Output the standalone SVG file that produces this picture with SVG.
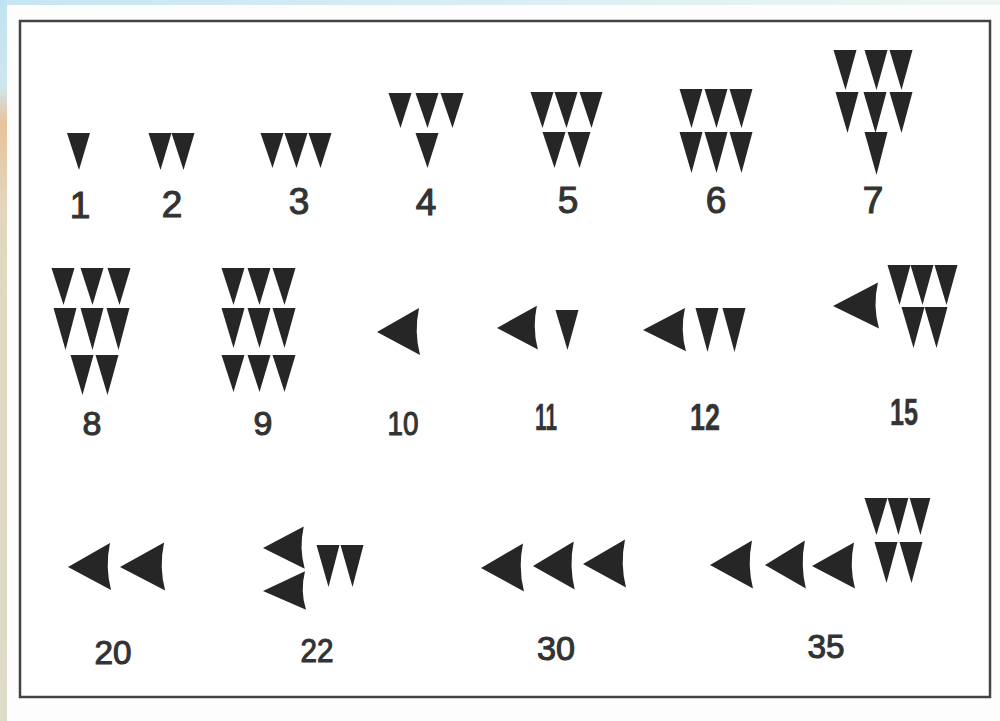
<svg xmlns="http://www.w3.org/2000/svg" xmlns:xlink="http://www.w3.org/1999/xlink" width="1000" height="721" viewBox="0 0 1000 721">
<defs>
<linearGradient id="side" x1="0" y1="0" x2="0" y2="1">
<stop offset="0" stop-color="#bfe4f1"/>
<stop offset="0.12" stop-color="#cfe6ee"/>
<stop offset="0.17" stop-color="#e8c39a"/>
<stop offset="0.3" stop-color="#e2d8c0"/>
<stop offset="1" stop-color="#dedbc8"/>
</linearGradient>
<linearGradient id="topg" x1="0" y1="0" x2="1" y2="0">
<stop offset="0" stop-color="#c6e6f2"/>
<stop offset="0.5" stop-color="#d9eef4"/>
<stop offset="1" stop-color="#eef6f2"/>
</linearGradient>
<path id="v" d="M-11.5,0 L11.5,0 L0.5,40 Z"/>
<path id="h" d="M0,0 L42,-24 Q37,0 43,23 Z"/>
<style>
.w{fill:#262626}
.n{font-family:"Liberation Sans",Arial,sans-serif;font-weight:normal;fill:#333;stroke:#333;stroke-width:1.1px;text-anchor:middle}
.r1{font-size:37px}
.r2{font-size:34px}
.b{font-weight:bold;stroke-width:0.4px;font-size:37px}
</style>
</defs>
<rect x="0" y="0" width="1000" height="721" fill="url(#topg)"/>
<rect x="0" y="0" width="7" height="721" fill="url(#side)"/>
<rect x="7" y="5" width="993" height="716" fill="#fdfdfd"/>
<rect x="20" y="21" width="970" height="676" fill="#ffffff" stroke="#444" stroke-width="2.5"/>

<g id="n1" class="w">
<use xlink:href="#v" transform="translate(78.5,133) scale(1,0.925)"/>
<text class="n r1" x="80" y="218">1</text>
</g>
<g id="n2" class="w">
<use xlink:href="#v" transform="translate(160,133) scale(1,0.925)"/>
<use xlink:href="#v" transform="translate(183,133) scale(1,0.925)"/>
<text class="n r1" x="172" y="217">2</text>
</g>
<g id="n3" class="w">
<use xlink:href="#v" transform="translate(272,133) scale(1,0.875)"/>
<use xlink:href="#v" transform="translate(296,133) scale(1,0.875)"/>
<use xlink:href="#v" transform="translate(320,133) scale(1,0.875)"/>
<text class="n r1" x="299" y="214">3</text>
</g>
<g id="n4" class="w">
<use xlink:href="#v" transform="translate(400,93) scale(1,0.875)"/>
<use xlink:href="#v" transform="translate(427,93) scale(1,0.875)"/>
<use xlink:href="#v" transform="translate(452,93) scale(1,0.875)"/>
<use xlink:href="#v" transform="translate(427,133) scale(1,0.875)"/>
<text class="n r1" x="426" y="215">4</text>
</g>
<g id="n5" class="w">
<use xlink:href="#v" transform="translate(542,92) scale(1,0.9)"/>
<use xlink:href="#v" transform="translate(566,92) scale(1,0.9)"/>
<use xlink:href="#v" transform="translate(591,92) scale(1,0.9)"/>
<use xlink:href="#v" transform="translate(554,132) scale(1,0.9)"/>
<use xlink:href="#v" transform="translate(579,132) scale(1,0.9)"/>
<text class="n r1" x="568" y="213">5</text>
</g>
<g id="n6" class="w">
<use xlink:href="#v" transform="translate(691,89) scale(1,0.975)"/>
<use xlink:href="#v" transform="translate(716,89) scale(1,0.975)"/>
<use xlink:href="#v" transform="translate(741,89) scale(1,0.975)"/>
<use xlink:href="#v" transform="translate(691,132) scale(1,1.025)"/>
<use xlink:href="#v" transform="translate(716,132) scale(1,1.025)"/>
<use xlink:href="#v" transform="translate(741,132) scale(1,1.025)"/>
<text class="n r1" x="716" y="213">6</text>
</g>
<g id="n7" class="w">
<use xlink:href="#v" transform="translate(845,50)"/>
<use xlink:href="#v" transform="translate(876,50)"/>
<use xlink:href="#v" transform="translate(901,50)"/>
<use xlink:href="#v" transform="translate(847,92) scale(1,1.025)"/>
<use xlink:href="#v" transform="translate(875,92) scale(1,1.025)"/>
<use xlink:href="#v" transform="translate(901,92) scale(1,1.025)"/>
<use xlink:href="#v" transform="translate(876,132) scale(1,1.075)"/>
<text class="n r1" x="873" y="213">7</text>
</g>
<g id="n8" class="w">
<use xlink:href="#v" transform="translate(63,268) scale(1,0.925)"/>
<use xlink:href="#v" transform="translate(92,268) scale(1,0.925)"/>
<use xlink:href="#v" transform="translate(119,268) scale(1,0.925)"/>
<use xlink:href="#v" transform="translate(65,308) scale(1,1.05)"/>
<use xlink:href="#v" transform="translate(92,308) scale(1,1.05)"/>
<use xlink:href="#v" transform="translate(118,308) scale(1,1.05)"/>
<use xlink:href="#v" transform="translate(82,355)"/>
<use xlink:href="#v" transform="translate(107,355)"/>
<text class="n r2" x="92" y="435">8</text>
</g>
<g id="n9" class="w">
<use xlink:href="#v" transform="translate(233,268) scale(1,0.925)"/>
<use xlink:href="#v" transform="translate(259,268) scale(1,0.925)"/>
<use xlink:href="#v" transform="translate(284,268) scale(1,0.925)"/>
<use xlink:href="#v" transform="translate(233,308)"/>
<use xlink:href="#v" transform="translate(259,308)"/>
<use xlink:href="#v" transform="translate(284,308)"/>
<use xlink:href="#v" transform="translate(233,355) scale(1,0.925)"/>
<use xlink:href="#v" transform="translate(259,355) scale(1,0.925)"/>
<use xlink:href="#v" transform="translate(284,355) scale(1,0.925)"/>
<text class="n r2" x="263" y="435">9</text>
</g>
<g id="n10" class="w">
<use xlink:href="#h" transform="translate(377,332)"/>
<text class="n r2" x="403" y="435" textLength="31" lengthAdjust="spacingAndGlyphs">10</text>
</g>
<g id="n11" class="w">
<use xlink:href="#h" transform="translate(497,328) scale(0.95,0.93)"/>
<use xlink:href="#v" transform="translate(567,310)"/>
<text class="n b" x="546" y="430" textLength="22" lengthAdjust="spacingAndGlyphs">11</text>
</g>
<g id="n12" class="w">
<use xlink:href="#h" transform="translate(643,330) scale(1,0.92)"/>
<use xlink:href="#v" transform="translate(707,308) scale(1,1.1)"/>
<use xlink:href="#v" transform="translate(734,308) scale(1,1.1)"/>
<text class="n b" x="705" y="430" textLength="30" lengthAdjust="spacingAndGlyphs">12</text>
</g>
<g id="n15" class="w">
<use xlink:href="#h" transform="translate(833,306) scale(1.07,0.98)"/>
<use xlink:href="#v" transform="translate(899,265)"/>
<use xlink:href="#v" transform="translate(922,265)"/>
<use xlink:href="#v" transform="translate(946,265)"/>
<use xlink:href="#v" transform="translate(913,307) scale(1,1.025)"/>
<use xlink:href="#v" transform="translate(936,307) scale(1,1.025)"/>
<text class="n b" x="904" y="425" textLength="28" lengthAdjust="spacingAndGlyphs">15</text>
</g>
<g id="n20" class="w">
<use xlink:href="#h" transform="translate(68,567)"/>
<use xlink:href="#h" transform="translate(120,567) scale(1.05,1.02)"/>
<text class="n r2" x="113" y="664" textLength="37" lengthAdjust="spacingAndGlyphs">20</text>
</g>
<g id="n22" class="w">
<use xlink:href="#h" transform="translate(263,548) scale(0.97,0.9)"/>
<use xlink:href="#h" transform="translate(263,591) scale(1,0.82)"/>
<use xlink:href="#v" transform="translate(328,545) scale(1,1.05)"/>
<use xlink:href="#v" transform="translate(352,545) scale(1,1.05)"/>
<text class="n r2" x="317" y="662" textLength="33" lengthAdjust="spacingAndGlyphs">22</text>
</g>
<g id="n30" class="w">
<use xlink:href="#h" transform="translate(481,568) scale(1,1.02)"/>
<use xlink:href="#h" transform="translate(533,566) scale(0.97,1.02)"/>
<use xlink:href="#h" transform="translate(583,564) scale(1,1.02)"/>
<text class="n r2" x="556" y="660" textLength="38" lengthAdjust="spacingAndGlyphs">30</text>
</g>
<g id="n35" class="w">
<use xlink:href="#h" transform="translate(710,565) scale(1,1.02)"/>
<use xlink:href="#h" transform="translate(765,565) scale(0.95,1.02)"/>
<use xlink:href="#h" transform="translate(812,566) scale(1,0.98)"/>
<use xlink:href="#v" transform="translate(876,498) scale(1,0.925)"/>
<use xlink:href="#v" transform="translate(898,498) scale(0.9,0.925)"/>
<use xlink:href="#v" transform="translate(920,498) scale(0.9,0.925)"/>
<use xlink:href="#v" transform="translate(886,542) scale(1,1.025)"/>
<use xlink:href="#v" transform="translate(911,542) scale(1,1.025)"/>
<text class="n r2" x="826" y="658" textLength="37" lengthAdjust="spacingAndGlyphs">35</text>
</g>
</svg>
